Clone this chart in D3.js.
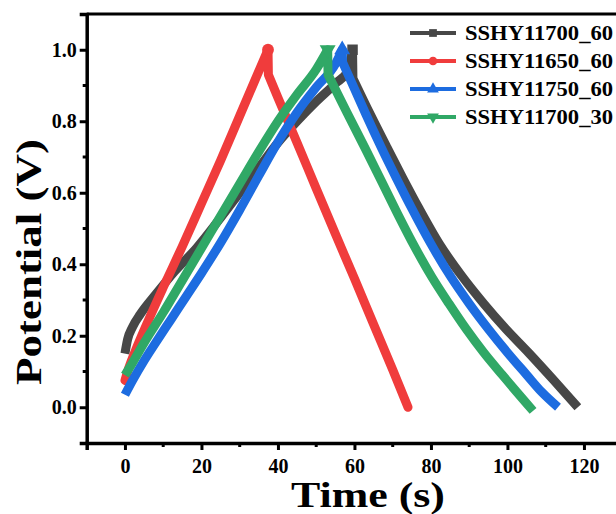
<!DOCTYPE html>
<html>
<head>
<meta charset="utf-8">
<script src="https://cdn.jsdelivr.net/npm/d3@7"></script>
<style>
  body { margin: 0; background: #fff; }
  svg { display: block; }
  text { font-family: "Liberation Serif", "Times New Roman", serif; }
</style>
</head>
<body>
<div id="chart"></div>
<script>
var svgwidth = 616;
var svgheight = 514;

var seriesNames = ["SSHY11700_60", "SSHY11650_60", "SSHY11750_60", "SSHY11700_30"];
var seriesColors = ["#474747", "#f03c3c", "#1d6ce0", "#30a866"];

// charge branch: time (s) / potential (V)
var tc_11700_60 = [0, 0.7, 2, 4, 8, 13, 18.7, 25, 30, 35, 40, 45, 50, 55, 58.5, 59.5];
var vc_11700_60 = [0.15, 0.19, 0.225, 0.26, 0.315, 0.38, 0.445, 0.53, 0.6, 0.67, 0.74, 0.8, 0.855, 0.905, 0.945, 1.0];
// discharge branch
var td_11700_60 = [59.6, 64.2, 68.5, 72.7, 76.9, 82.2, 88, 93.8, 99.6, 105.5, 112, 118.4];
var vd_11700_60 = [0.92, 0.818, 0.727, 0.64, 0.556, 0.457, 0.368, 0.29, 0.219, 0.153, 0.077, 0.0];

var tc_11650_60 = [0, 1, 3, 6, 10, 15, 20, 25, 30, 34, 37.4];
var vc_11650_60 = [0.075, 0.11, 0.165, 0.24, 0.335, 0.45, 0.57, 0.69, 0.815, 0.915, 1.0];
var td_11650_60 = [37.5, 40, 45, 50, 55, 60, 65, 70, 74];
var vd_11650_60 = [0.93, 0.866, 0.74, 0.612, 0.485, 0.36, 0.232, 0.105, 0.0];

var tc_11750_60 = [0, 2, 5, 8, 12, 16, 20, 25, 30, 35, 40, 45, 50, 55, 56.8];
var vc_11750_60 = [0.035, 0.075, 0.13, 0.18, 0.245, 0.31, 0.375, 0.46, 0.552, 0.648, 0.742, 0.825, 0.895, 0.96, 1.0];
var td_11750_60 = [56.9, 60, 63, 67, 71, 75, 80, 85, 90, 95, 100, 105, 109, 113.2];
var vd_11750_60 = [0.965, 0.891, 0.819, 0.727, 0.64, 0.556, 0.457, 0.368, 0.29, 0.219, 0.153, 0.091, 0.042, 0.0];

var tc_11700_30 = [0, 2, 5, 10, 15, 20, 25, 30, 35, 40, 45, 50, 53];
var vc_11700_30 = [0.09, 0.125, 0.18, 0.265, 0.355, 0.445, 0.535, 0.625, 0.715, 0.8, 0.875, 0.945, 1.0];
var td_11700_30 = [53.1, 58, 63, 67.4, 71.2, 75.8, 80.2, 84.7, 89.2, 93.8, 98.6, 106.7];
var vd_11700_30 = [0.93, 0.825, 0.72, 0.625, 0.543, 0.448, 0.365, 0.29, 0.219, 0.153, 0.091, -0.01];

var chargeT = [tc_11700_60, tc_11650_60, tc_11750_60, tc_11700_30];
var chargeV = [vc_11700_60, vc_11650_60, vc_11750_60, vc_11700_30];
var dischargeT = [td_11700_60, td_11650_60, td_11750_60, td_11700_30];
var dischargeV = [vd_11700_60, vd_11650_60, vd_11750_60, vd_11700_30];

var xTicks = [0, 20, 40, 60, 80, 100, 120];
var xMinor = [10, 30, 50, 70, 90, 110];
var yTicks = [0.0, 0.2, 0.4, 0.6, 0.8, 1.0];
var yMinor = [0.1, 0.3, 0.5, 0.7, 0.9];

var symbols = [d3.symbolSquare, d3.symbolCircle, d3.symbolTriangle, d3.symbolTriangle];

var svg = d3
  .select("#chart")
  .append("svg")
  .attr("width", svgwidth)
  .attr("height", svgheight);

var xscale = d3.scaleLinear().domain([-10, 130]).range([86.7, 622.2]);
var yscale = d3.scaleLinear().domain([-0.1, 1.1]).range([443, 14]);

// frame top edge (right edge is cut off by the picture)
svg.append("line")
  .attr("x1", xscale(-10)).attr("x2", xscale(130))
  .attr("y1", yscale(1.1)).attr("y2", yscale(1.1))
  .attr("stroke", "#000").attr("stroke-width", 3);

var xaxis = d3.axisBottom(xscale).tickValues(xTicks).tickSize(7).tickPadding(9).tickFormat(d3.format("d"));
var yaxis = d3.axisLeft(yscale).tickValues(yTicks).tickSize(7).tickPadding(3).tickFormat(d3.format(".1f"));

var gx = svg.append("g").attr("transform", "translate(0," + yscale(-0.1) + ")").call(xaxis);
var gy = svg.append("g").attr("transform", "translate(" + xscale(-10) + ",0)").call(yaxis);

// minor ticks
gx.selectAll(".minor").data(xMinor).join("line")
  .attr("class", "minor")
  .attr("x1", function (d) { return xscale(d); }).attr("x2", function (d) { return xscale(d); })
  .attr("y1", 0).attr("y2", 4)
  .attr("stroke", "#000").attr("stroke-width", 3);
gy.selectAll(".minor").data(yMinor).join("line")
  .attr("class", "minor")
  .attr("y1", function (d) { return yscale(d); }).attr("y2", function (d) { return yscale(d); })
  .attr("x1", 0).attr("x2", -4)
  .attr("stroke", "#000").attr("stroke-width", 3);

[gx, gy].forEach(function (g) {
  g.select(".domain").attr("stroke-width", 3.5).attr("stroke", "#000");
  g.selectAll(".tick line").attr("stroke-width", 3).attr("stroke", "#000");
  g.selectAll(".tick text")
    .style("font-size", "20px")
    .style("font-weight", "bold")
    .attr("fill", "#000");
});

// curves: smooth charge branch, straight IR drop, smooth discharge branch
var line = d3.line()
  .x(function (d) { return xscale(d[0]); })
  .y(function (d) { return yscale(d[1]); })
  .curve(d3.curveMonotoneX);

var caps = ["butt", "round", "butt", "butt"];

seriesNames.forEach(function (name, i) {
  var cpts = chargeT[i].map(function (t, j) { return [t, chargeV[i][j]]; });
  var dpts = dischargeT[i].map(function (t, j) { return [t, dischargeV[i][j]]; });
  var d = line(cpts) + line(dpts).replace(/^M/, "L");
  svg.append("path")
    .attr("fill", "none")
    .attr("stroke", seriesColors[i])
    .attr("stroke-width", 9)
    .attr("stroke-linejoin", "round")
    .attr("stroke-linecap", caps[i])
    .attr("d", d);

  // marker at the peak
  var pk = cpts[cpts.length - 1];
  svg.append("path")
    .attr("d", d3.symbol().type(symbols[i]).size(110))
    .attr("transform", "translate(" + xscale(pk[0]) + "," + yscale(pk[1]) + ")" + (i === 3 ? " rotate(180)" : ""))
    .attr("fill", seriesColors[i]);
});

// legend
var legend = svg.selectAll(".legend")
  .data(seriesNames)
  .enter()
  .append("g")
  .attr("class", "legend")
  .attr("transform", function (d, i) { return "translate(410," + (33 + i * 28) + ")"; });

legend.append("line")
  .attr("x1", 0).attr("x2", 46)
  .attr("stroke", function (d, i) { return seriesColors[i]; })
  .attr("stroke-width", 4);

legend.append("path")
  .attr("d", function (d, i) { return d3.symbol().type(symbols[i]).size(60)(); })
  .attr("transform", function (d, i) { return "translate(23,0)" + (i === 3 ? " rotate(180)" : ""); })
  .attr("fill", function (d, i) { return seriesColors[i]; });

legend.append("text")
  .attr("x", 55)
  .attr("dy", "0.35em")
  .attr("textLength", 148)
  .attr("lengthAdjust", "spacingAndGlyphs")
  .style("font-size", "21px")
  .style("font-weight", "bold")
  .text(function (d) { return d; });

// axis titles
svg.append("text")
  .attr("x", 368)
  .attr("y", 507)
  .attr("text-anchor", "middle")
  .attr("textLength", 154)
  .attr("lengthAdjust", "spacingAndGlyphs")
  .style("font-size", "36px")
  .style("font-weight", "bold")
  .text("Time (s)");

svg.append("text")
  .attr("transform", "translate(41,262) rotate(-90)")
  .attr("text-anchor", "middle")
  .attr("textLength", 246)
  .attr("lengthAdjust", "spacingAndGlyphs")
  .style("font-size", "36px")
  .style("font-weight", "bold")
  .text("Potential (V)");
</script>
</body>
</html>
